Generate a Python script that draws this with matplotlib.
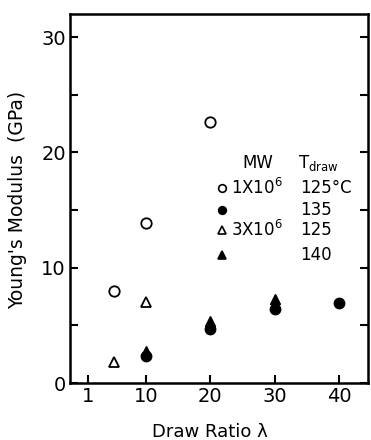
import matplotlib
matplotlib.use("Agg")
import matplotlib.pyplot as plt
from matplotlib.ticker import FixedLocator

# data
oc_x = [5, 10, 20]          # 1x10^6, 125 C (open circles)
oc_y = [8.0, 13.9, 22.6]
fc_x = [10, 20, 30, 40]     # 1x10^6, 135 (filled circles)
fc_y = [2.3, 4.7, 6.4, 6.9]
ot_x = [5, 10]              # 3x10^6, 125 (open triangles)
ot_y = [1.8, 7.0]
ft_x = [10, 20, 30]         # 3x10^6, 140 (filled triangles)
ft_y = [2.8, 5.4, 7.3]
xticks = [1, 10, 20, 30, 40]
yticks = [0, 10, 20, 30]

plt.rcParams['font.family'] = ['DejaVu Sans']
fig = plt.figure(figsize=(3.71, 4.40), dpi=100)
ax = fig.add_axes([70/371, 1-383/440, 298/371, 369/440])

ms = 7.5
ax.plot(oc_x, oc_y, 'o', mfc='white', mec='black', mew=1.3, ms=ms, ls='none')
ax.plot(fc_x, fc_y, 'o', mfc='black', mec='black', ms=ms, ls='none')
ax.plot(ot_x, ot_y, '^', mfc='white', mec='black', mew=1.3, ms=ms, ls='none')
ax.plot(ft_x, ft_y, '^', mfc='black', mec='black', ms=ms, ls='none')

ax.set_xlim(-1.8, 44.5)
ax.set_ylim(0, 32)
ax.set_xticks(xticks)
ax.set_yticks(yticks)
ax.yaxis.set_minor_locator(FixedLocator([5, 15, 25]))
ax.tick_params(axis='both', which='both', direction='in', width=1.5, labelsize=14)
ax.tick_params(axis='both', which='major', length=6)
ax.tick_params(axis='y', which='minor', length=6)
ax.tick_params(axis='y', which='both', right=True)
ax.tick_params(axis='x', pad=3)
ax.tick_params(axis='y', pad=3)
for s in ax.spines.values():
    s.set_linewidth(1.8)

ax.set_xlabel('Draw Ratio λ', fontsize=13)
ax.xaxis.set_label_coords((210-70)/298, -(432-383)/369)
ax.xaxis.label.set_va('center')
ax.set_ylabel("Young's Modulus  (GPa)", fontsize=13.5)
ax.yaxis.set_label_coords(-(70-18)/298, (383-200)/369)
ax.yaxis.label.set_va('center')

# legend drawn as text + markers in data coords
fs = 12
def px2d(px, py):
    return ax.transData.inverted().transform(fig.transFigure.transform((px/371, 1-py/440)))

ax.text(*px2d(242, 163), 'MW', fontsize=fs, va='center', ha='left')
ax.text(*px2d(298, 163), 'T$_{\\mathrm{draw}}$', fontsize=fs, va='center', ha='left')
rows = [(188, 'o', 'white', '1X10$^6$', '125°C'),
        (210, 'o', 'black', '', '135'),
        (230, '^', 'white', '3X10$^6$', '125'),
        (255, '^', 'black', '', '140')]
for py, m, fc, mw, t in rows:
    x, y = px2d(222, py)
    ax.plot([x], [y], m, mfc=fc, mec='black', mew=1.2, ms=5.5)
    if mw:
        ax.text(*px2d(231, py), mw, fontsize=fs, va='center', ha='left')
    ax.text(*px2d(300, py), t, fontsize=fs, va='center', ha='left')

fig.savefig('out.png', dpi=100)
